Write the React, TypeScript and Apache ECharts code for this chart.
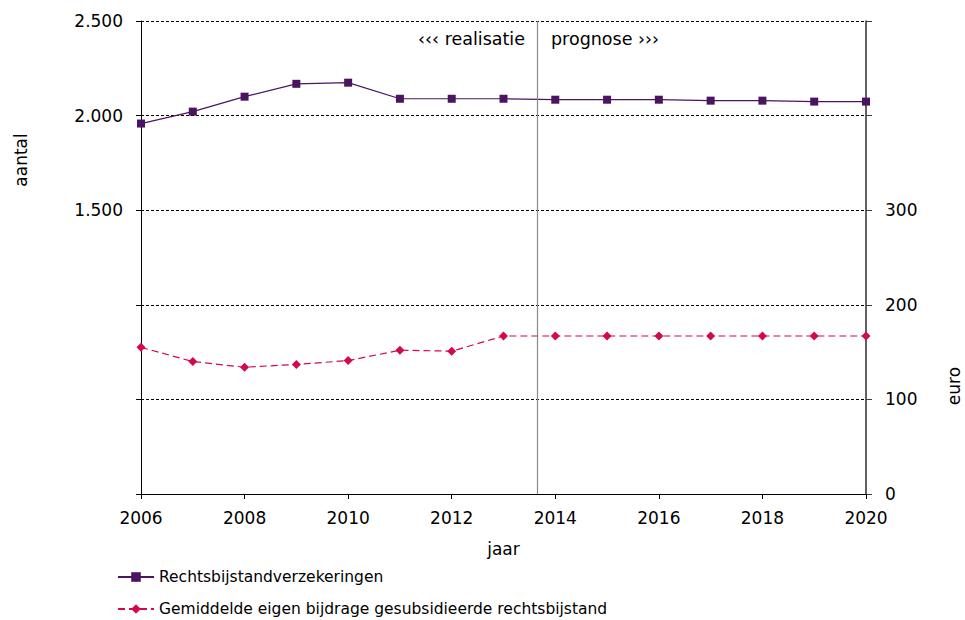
import React, { useEffect, useRef } from "react";
import * as echarts from "echarts";

const years = [2006, 2007, 2008, 2009, 2010, 2011, 2012, 2013, 2014, 2015, 2016, 2017, 2018, 2019, 2020];
const verzekeringen = [1958, 2021, 2100, 2168, 2174, 2089, 2089, 2089, 2084, 2084, 2084, 2079, 2079, 2074, 2074];
const eigenBijdrage = [155, 140, 134, 137, 141, 152, 151, 167, 167, 167, 167, 167, 167, 167, 167];
const seriesNames = ["Rechtsbijstandverzekeringen", "Gemiddelde eigen bijdrage gesubsidieerde rechtsbijstand"];
const splitYear = 2013.65;

const FONT = "DejaVu Sans";

function fmtThousands(v: number): string {
  return String(v).replace(/\B(?=(\d{3})+(?!\d))/g, ".");
}

export default function App() {
  const ref = useRef<HTMLDivElement>(null);
  useEffect(() => {
    if (!ref.current) return;
    const chart = echarts.init(ref.current, undefined, { renderer: "svg" });
    const purple = "#4b1461";
    const pink = "#d4084e";
    const legendBase = {
      orient: "horizontal",
      left: 117,
      padding: 0,
      itemWidth: 36,
      itemHeight: 12,
      textStyle: { fontFamily: FONT, fontSize: 15.5, color: "#000" },
    };
    chart.setOption({
      animation: false,
      textStyle: { fontFamily: FONT },
      grid: { left: 141, right: 99, top: 21, bottom: 126 },
      xAxis: {
        type: "value",
        min: 2006,
        max: 2020,
        interval: 2,
        name: "jaar",
        nameLocation: "middle",
        nameGap: 46,
        nameTextStyle: { fontFamily: FONT, fontSize: 17, color: "#000" },
        axisLine: { lineStyle: { color: "#000", width: 1 } },
        axisTick: { show: true, length: 5, lineStyle: { color: "#000" } },
        axisLabel: { fontFamily: FONT, fontSize: 17, color: "#000", margin: 15, formatter: (v: number) => String(v) },
        splitLine: { show: false },
      },
      yAxis: [
        {
          type: "value",
          min: 0,
          max: 2500,
          interval: 500,
          position: "left",
          axisLine: { show: true, lineStyle: { color: "#000", width: 1 } },
          axisTick: { show: true, length: 5, lineStyle: { color: "#000" } },
          axisLabel: {
            fontFamily: FONT,
            fontSize: 17,
            color: "#000",
            margin: 18,
            formatter: (v: number) => (v >= 1500 ? fmtThousands(v) : ""),
          },
          splitLine: { show: true, lineStyle: { color: "#000", type: [3, 2], width: 1 } },
        },
        {
          type: "value",
          min: 0,
          max: 500,
          interval: 100,
          position: "right",
          axisLine: { show: true, lineStyle: { color: "#3a3a3a", width: 1.6 } },
          axisTick: { show: true, length: 6, lineStyle: { color: "#3a3a3a" } },
          axisLabel: {
            fontFamily: FONT,
            fontSize: 17,
            color: "#000",
            margin: 19,
            formatter: (v: number) => (v <= 300 ? String(v) : ""),
          },
          splitLine: { show: false },
        },
      ],
      legend: [
        { ...legendBase, top: 569, data: [seriesNames[0]] },
        { ...legendBase, top: 601, data: [seriesNames[1]] },
      ],
      series: [
        {
          name: seriesNames[0],
          type: "line",
          yAxisIndex: 0,
          data: years.map((y, i) => [y, verzekeringen[i]]),
          symbol: "rect",
          symbolSize: 8,
          itemStyle: { color: purple },
          lineStyle: { color: purple, width: 1.2 },
          markLine: {
            silent: true,
            symbol: ["none", "none"],
            label: { show: false },
            lineStyle: { color: "#8a8a8a", width: 1.2, type: "solid" },
            data: [{ xAxis: splitYear }],
          },
        },
        {
          name: seriesNames[1],
          type: "line",
          yAxisIndex: 1,
          data: years.map((y, i) => [y, eigenBijdrage[i]]),
          symbol: "diamond",
          symbolSize: 9,
          itemStyle: { color: pink },
          lineStyle: { color: pink, width: 1.2, type: [7, 4] },
        },
      ],
      graphic: [
        {
          type: "text",
          right: 965 - 525,
          top: 30,
          style: { text: "‹‹‹ realisatie", fontFamily: FONT, fontSize: 17.5, fill: "#000" },
        },
        {
          type: "text",
          left: 551,
          top: 30,
          style: { text: "prognose ›››", fontFamily: FONT, fontSize: 17.5, fill: "#000" },
        },
        {
          type: "text",
          x: 21,
          y: 160,
          rotation: Math.PI / 2,
          style: { text: "aantal", fontFamily: FONT, fontSize: 17, fill: "#000", align: "center", verticalAlign: "middle" },
        },
        {
          type: "text",
          x: 954,
          y: 386,
          rotation: Math.PI / 2,
          style: { text: "euro", fontFamily: FONT, fontSize: 17, fill: "#000", align: "center", verticalAlign: "middle" },
        },
      ],
    });
    return () => chart.dispose();
  }, []);
  return <div ref={ref} style={{ position: "absolute", left: 0, top: 0, width: 965, height: 620 }} />;
}
